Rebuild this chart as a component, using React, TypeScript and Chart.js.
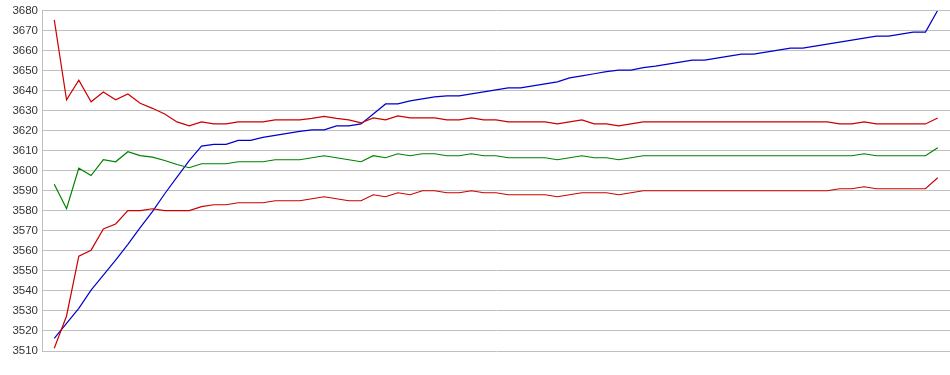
import React, { useEffect, useRef } from "react";
import { Chart, registerables } from "chart.js";

Chart.register(...registerables);

// Y axis range / ticks
const yMin = 3510;
const yMax = 3680;
const yStep = 10;

// Series values (73 samples each)
const upperRed = [
  3675.5, 3635.6, 3645.4, 3634.6, 3639.5, 3635.6, 3638.5, 3633.8, 3631.3, 3628.5,
  3624.5, 3622.5, 3624.5, 3623.5, 3623.5, 3624.5, 3624.5, 3624.5, 3625.5, 3625.5,
  3625.5, 3626.3, 3627.3, 3626.3, 3625.5, 3624.0, 3626.5, 3625.5, 3627.5, 3626.5,
  3626.5, 3626.5, 3625.5, 3625.5, 3626.5, 3625.5, 3625.5, 3624.5, 3624.5, 3624.5,
  3624.5, 3623.5, 3624.5, 3625.5, 3623.5, 3623.5, 3622.5, 3623.5, 3624.5, 3624.5,
  3624.5, 3624.5, 3624.5, 3624.5, 3624.5, 3624.5, 3624.5, 3624.5, 3624.5, 3624.5,
  3624.5, 3624.5, 3624.5, 3624.5, 3623.5, 3623.5, 3624.5, 3623.5, 3623.5, 3623.5,
  3623.5, 3623.5, 3626.5,
];

const green = [
  3593.3, 3581.1, 3601.4, 3597.7, 3605.6, 3604.6, 3609.6, 3607.7, 3606.9, 3605.2,
  3603.2, 3601.6, 3603.6, 3603.6, 3603.6, 3604.6, 3604.6, 3604.6, 3605.6, 3605.6,
  3605.6, 3606.6, 3607.6, 3606.6, 3605.6, 3604.6, 3607.6, 3606.6, 3608.6, 3607.6,
  3608.6, 3608.6, 3607.6, 3607.6, 3608.6, 3607.6, 3607.6, 3606.6, 3606.6, 3606.6,
  3606.6, 3605.6, 3606.6, 3607.6, 3606.6, 3606.6, 3605.6, 3606.6, 3607.6, 3607.6,
  3607.6, 3607.6, 3607.6, 3607.6, 3607.6, 3607.6, 3607.6, 3607.6, 3607.6, 3607.6,
  3607.6, 3607.6, 3607.6, 3607.6, 3607.6, 3607.6, 3608.6, 3607.6, 3607.6, 3607.6,
  3607.6, 3607.6, 3611.6,
];

const lowerRed = [
  3511.4, 3527.5, 3557.4, 3560.4, 3571.0, 3573.5, 3580.2, 3580.2, 3581.1, 3580.2,
  3580.2, 3580.2, 3582.2, 3583.1, 3583.1, 3584.1, 3584.1, 3584.1, 3585.1, 3585.1,
  3585.1, 3586.1, 3587.1, 3586.1, 3585.1, 3585.1, 3588.1, 3587.1, 3589.1, 3588.1,
  3590.1, 3590.1, 3589.1, 3589.1, 3590.1, 3589.1, 3589.1, 3588.1, 3588.1, 3588.1,
  3588.1, 3587.1, 3588.1, 3589.1, 3589.1, 3589.1, 3588.1, 3589.1, 3590.1, 3590.1,
  3590.1, 3590.1, 3590.1, 3590.1, 3590.1, 3590.1, 3590.1, 3590.1, 3590.1, 3590.1,
  3590.1, 3590.1, 3590.1, 3590.1, 3591.1, 3591.1, 3592.1, 3591.1, 3591.1, 3591.1,
  3591.1, 3591.1, 3596.6,
];

const blue = [
  3516.3, 3523.8, 3531.3, 3540.4, 3547.9, 3555.4, 3563.3, 3571.7, 3579.7, 3588.6,
  3596.9, 3605.2, 3612.4, 3613.3, 3613.3, 3615.3, 3615.3, 3616.8, 3617.8, 3618.8,
  3619.8, 3620.5, 3620.5, 3622.5, 3622.5, 3623.5, 3628.5, 3633.5, 3633.5, 3635.0,
  3636.0, 3637.0, 3637.5, 3637.5, 3638.5, 3639.5, 3640.5, 3641.5, 3641.5, 3642.5,
  3643.5, 3644.5, 3646.5, 3647.5, 3648.6, 3649.6, 3650.4, 3650.4, 3651.6, 3652.4,
  3653.4, 3654.4, 3655.4, 3655.4, 3656.4, 3657.4, 3658.4, 3658.4, 3659.4, 3660.4,
  3661.4, 3661.4, 3662.4, 3663.4, 3664.4, 3665.4, 3666.4, 3667.4, 3667.4, 3668.4,
  3669.4, 3669.4, 3680.3,
];

const seriesColors = ["#cc0000", "#008000", "#cc0000", "#0000cc"];

function toPoints(values: number[]) {
  return values.map((y, i) => ({ x: i + 1, y }));
}

export default function App() {
  const canvasRef = useRef<HTMLCanvasElement | null>(null);

  useEffect(() => {
    document.body.style.margin = "0";
    const canvas = canvasRef.current;
    if (!canvas) return;
    const n = blue.length;
    const chart = new Chart(canvas, {
      type: "line",
      data: {
        datasets: [upperRed, green, lowerRed, blue].map((vals, k) => ({
          data: toPoints(vals),
          borderColor: seriesColors[k],
          backgroundColor: seriesColors[k],
          borderWidth: 1.2,
          pointRadius: 0,
          pointHoverRadius: 0,
          tension: 0,
          fill: false,
        })),
      },
      options: {
        animation: false,
        responsive: false,
        maintainAspectRatio: false,
        events: [],
        layout: { padding: { top: 10, bottom: 24, left: 0, right: 0 } },
        plugins: {
          legend: { display: false },
          tooltip: { enabled: false },
          title: { display: false },
        },
        scales: {
          x: {
            type: "linear",
            min: 0,
            max: n + 1,
            display: false,
          },
          y: {
            type: "linear",
            min: yMin,
            max: yMax,
            afterFit: (scale: any) => {
              scale.width = 42;
            },
            ticks: {
              stepSize: yStep,
              padding: 4,
              color: "#333333",
              font: { family: "Liberation Sans, Arial, sans-serif", size: 11.5 },
              callback: (value: any) => String(value),
            },
            grid: {
              color: "#c0c0c0",
              lineWidth: 1,
              drawTicks: false,
              tickLength: 0,
            },
            border: { display: true, color: "#c0c0c0", width: 1 },
          },
        },
      },
    });
    return () => chart.destroy();
  }, []);

  return (
    <div style={{ width: 950, height: 375, background: "#ffffff" }}>
      <canvas ref={canvasRef} width={950} height={375} style={{ display: "block" }} />
    </div>
  );
}
